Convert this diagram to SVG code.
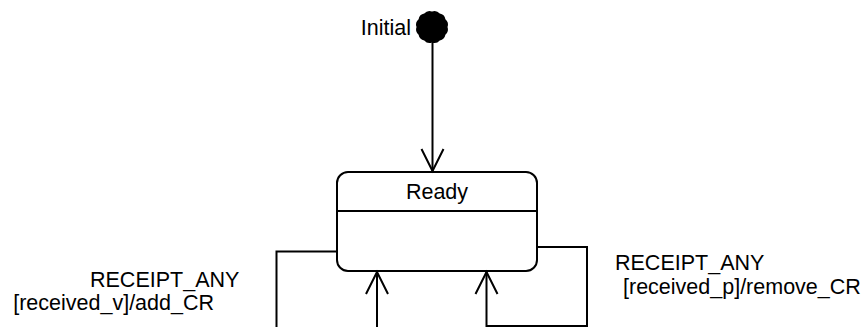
<svg xmlns="http://www.w3.org/2000/svg" width="868" height="327" viewBox="0 0 868 327">
  <style>
    .lbl { font-family: "Liberation Sans", Arial, sans-serif; font-size: 21.5px; fill: #000; }
    .ln { fill: none; stroke: #000; stroke-width: 2; }
    .state { fill: #fff; stroke: #000; stroke-width: 2; }
  </style>
  <defs>
    <marker id="open-arrow" markerUnits="userSpaceOnUse" markerWidth="26" markerHeight="26" viewBox="-23 -12 26 24" refX="0" refY="0" orient="auto">
      <path d="M -22 -11 L 0 0 L -22 11" fill="none" stroke="#000" stroke-width="2"/>
    </marker>
  </defs>

  <rect width="868" height="327" fill="#fff"/>

  <!-- initial pseudo-state: filled disc with a lightly scalloped rim -->
  <g id="initial">
    <path d="M 447.5 27 A 7 7 0 0 1 445.4 34.75 A 7 7 0 0 1 439.75 40.4 A 7 7 0 0 1 432 42.5 A 7 7 0 0 1 424.25 40.4 A 7 7 0 0 1 418.6 34.75 A 7 7 0 0 1 416.5 27 A 7 7 0 0 1 418.6 19.25 A 7 7 0 0 1 424.25 13.6 A 7 7 0 0 1 432 11.5 A 7 7 0 0 1 439.75 13.6 A 7 7 0 0 1 445.4 19.25 A 7 7 0 0 1 447.5 27 Z" fill="#000"/>
    <text class="lbl" x="411" y="35" text-anchor="end">Initial</text>
  </g>

  <!-- Ready state -->
  <g id="ready">
    <rect class="state" x="337" y="172" width="200" height="99" rx="11" ry="11"/>
    <line class="ln" x1="337" y1="211" x2="537" y2="211"/>
    <text class="lbl" x="437" y="199" text-anchor="middle">Ready</text>
  </g>

  <!-- transitions -->
  <g id="connectors">
    <line class="ln" x1="432.5" y1="42" x2="432.5" y2="171" marker-end="url(#open-arrow)"/>
    <polyline class="ln" points="337,251.5 276.5,251.5 276.5,330"/>
    <line class="ln" x1="377" y1="330" x2="377" y2="272" marker-end="url(#open-arrow)"/>
    <polyline class="ln" points="537,247 587,247 587,326 486.5,326 486.5,272" marker-end="url(#open-arrow)"/>
  </g>

  <!-- transition labels -->
  <g id="label-left">
    <text class="lbl" x="90" y="287">RECEIPT_ANY</text>
    <text class="lbl" x="214" y="310" text-anchor="end">[received_v]/add_CR</text>
  </g>
  <g id="label-right">
    <text class="lbl" x="615" y="270">RECEIPT_ANY</text>
    <text class="lbl" x="623" y="294">[received_p]/remove_CR</text>
  </g>
</svg>
